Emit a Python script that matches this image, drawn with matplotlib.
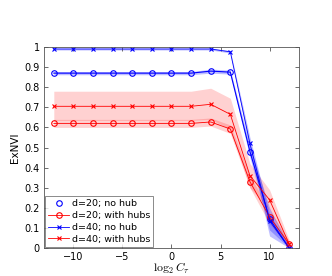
import matplotlib
matplotlib.use("Agg")
import matplotlib.pyplot as plt
from matplotlib.lines import Line2D

plt.rcParams["mathtext.fontset"] = "cm"

x = [-12, -10, -8, -6, -4, -2, 0, 2, 4, 6, 8, 10, 12]

d20_nohub = [0.87, 0.87, 0.87, 0.87, 0.87, 0.87, 0.87, 0.87, 0.88, 0.875, 0.48, 0.145, 0.0]
d20_nohub_lo = [0.862, 0.862, 0.862, 0.862, 0.862, 0.862, 0.862, 0.862, 0.87, 0.865, 0.45, 0.09, 0.0]
d20_nohub_hi = [0.878, 0.878, 0.878, 0.878, 0.878, 0.878, 0.878, 0.878, 0.89, 0.885, 0.51, 0.2, 0.01]

d20_hubs = [0.62, 0.62, 0.62, 0.62, 0.62, 0.62, 0.62, 0.62, 0.627, 0.592, 0.33, 0.155, 0.02]
d20_hubs_lo = [0.6, 0.6, 0.6, 0.6, 0.6, 0.6, 0.6, 0.6, 0.607, 0.57, 0.3, 0.12, 0.005]
d20_hubs_hi = [0.64, 0.64, 0.64, 0.64, 0.64, 0.64, 0.64, 0.64, 0.647, 0.612, 0.36, 0.19, 0.035]

d40_nohub = [0.99, 0.99, 0.99, 0.99, 0.99, 0.99, 0.99, 0.99, 0.99, 0.976, 0.52, 0.135, 0.0]
d40_nohub_lo = [0.985, 0.985, 0.985, 0.985, 0.985, 0.985, 0.985, 0.985, 0.985, 0.97, 0.49, 0.06, 0.0]
d40_nohub_hi = [0.995, 0.995, 0.995, 0.995, 0.995, 0.995, 0.995, 0.995, 0.995, 0.982, 0.55, 0.17, 0.01]

d40_hubs = [0.705, 0.705, 0.705, 0.705, 0.705, 0.705, 0.705, 0.705, 0.715, 0.665, 0.36, 0.24, 0.02]
d40_hubs_lo = [0.635, 0.635, 0.635, 0.635, 0.635, 0.635, 0.635, 0.635, 0.64, 0.59, 0.3, 0.19, 0.0]
d40_hubs_hi = [0.78, 0.78, 0.78, 0.78, 0.78, 0.78, 0.78, 0.78, 0.795, 0.745, 0.42, 0.29, 0.04]

labels = ["d=20; no hub", "d=20; with hubs", "d=40; no hub", "d=40; with hubs"]

fig = plt.figure(figsize=(3.32, 2.76), dpi=100)
ax = fig.add_axes([0.1325, 0.1014, 0.768, 0.7283])

blue = "#0000ff"
red = "#ff0000"

ax.fill_between(x, d40_hubs_lo, d40_hubs_hi, color=red, alpha=0.18, lw=0)
ax.fill_between(x, d20_hubs_lo, d20_hubs_hi, color=red, alpha=0.18, lw=0)
ax.fill_between(x, d20_nohub_lo, d20_nohub_hi, color=blue, alpha=0.25, lw=0)
ax.fill_between(x, d40_nohub_lo, d40_nohub_hi, color=blue, alpha=0.25, lw=0)

ax.plot(x, d20_nohub, color=blue, lw=0.8, marker="o", ms=4, mfc="none", mew=0.8)
ax.plot(x, d20_hubs, color=red, lw=0.6, marker="o", ms=4, mfc="none", mew=0.8)
ax.plot(x, d40_nohub, color=blue, lw=0.6, marker="x", ms=3, mew=0.8)
ax.plot(x, d40_hubs, color=red, lw=0.6, marker="x", ms=3, mew=0.8)

handles = [
    Line2D([], [], color=blue, ls="none", marker="o", ms=4, mfc="none", mew=0.8),
    Line2D([], [], color=red, lw=0.6, marker="o", ms=4, mfc="none", mew=0.8),
    Line2D([], [], color=blue, lw=0.6, marker="x", ms=3, mew=0.8),
    Line2D([], [], color=red, lw=0.6, marker="x", ms=3, mew=0.8),
]
leg = ax.legend(handles, labels, loc="lower left", fontsize=6.8, frameon=True,
                fancybox=False, edgecolor="#555555", borderaxespad=0.15,
                handlelength=2.2, labelspacing=0.3, borderpad=0.3, handletextpad=0.3)
leg.get_frame().set_linewidth(0.6)

ax.set_xlim(-13, 13)
ax.set_ylim(0, 1)
ax.set_xticks([-10, -5, 0, 5, 10])
ax.set_yticks([0, 0.1, 0.2, 0.3, 0.4, 0.5, 0.6, 0.7, 0.8, 0.9, 1])
ax.set_yticklabels(["0", "0.1", "0.2", "0.3", "0.4", "0.5", "0.6", "0.7", "0.8", "0.9", "1"])
ax.tick_params(direction="in", top=True, right=True, labelsize=7, length=3,
               width=0.6, color="#555555", pad=3)
for s in ax.spines.values():
    s.set_color("#555555")
    s.set_linewidth(0.6)

ax.set_xlabel(r"$\log_2 C_\tau$", fontsize=8.5, labelpad=-1)
ax.set_ylabel("ExNVI", fontsize=7.5, labelpad=3)

fig.savefig("out.png", dpi=100)
